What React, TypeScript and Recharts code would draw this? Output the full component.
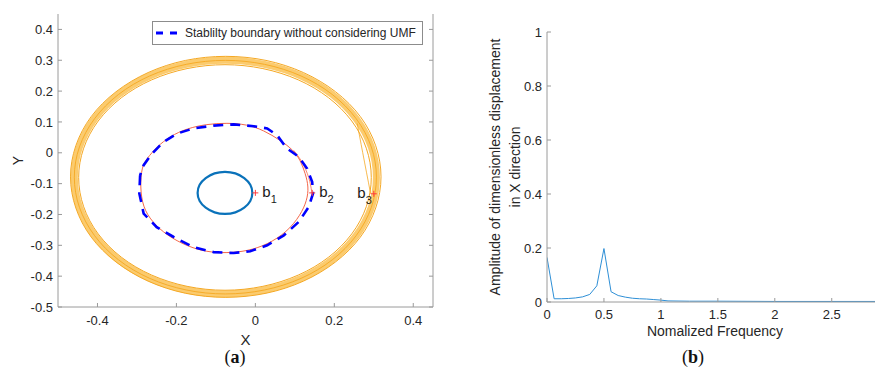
import React from 'react';
import {
    ScatterChart,
    Scatter,
    LineChart,
    Line,
    XAxis,
    YAxis,
    Legend,
} from 'recharts';

// ---- orbit panel (a) ----
// outer / middle / inner edge of the large orange orbit band
const orbitOuter = [
    { x: 0.323, y: -0.078 }, { x: 0.309, y: 0.024 }, { x: 0.270, y: 0.120 }, { x: 0.206, y: 0.201 },
    { x: 0.124, y: 0.264 }, { x: 0.028, y: 0.304 }, { x: -0.075, y: 0.317 }, { x: -0.178, y: 0.304 },
    { x: -0.274, y: 0.264 }, { x: -0.356, y: 0.201 }, { x: -0.420, y: 0.120 }, { x: -0.459, y: 0.024 },
    { x: -0.473, y: -0.078 }, { x: -0.459, y: -0.180 }, { x: -0.420, y: -0.276 }, { x: -0.356, y: -0.357 },
    { x: -0.274, y: -0.420 }, { x: -0.178, y: -0.460 }, { x: -0.075, y: -0.473 }, { x: 0.028, y: -0.460 },
    { x: 0.124, y: -0.420 }, { x: 0.206, y: -0.357 }, { x: 0.270, y: -0.276 }, { x: 0.309, y: -0.180 },
];
const orbitMiddle = [
    { x: 0.311, y: -0.079 }, { x: 0.298, y: 0.020 }, { x: 0.259, y: 0.113 }, { x: 0.198, y: 0.192 },
    { x: 0.118, y: 0.253 }, { x: 0.024, y: 0.291 }, { x: -0.076, y: 0.304 }, { x: -0.176, y: 0.291 },
    { x: -0.270, y: 0.253 }, { x: -0.350, y: 0.192 }, { x: -0.411, y: 0.113 }, { x: -0.450, y: 0.020 },
    { x: -0.463, y: -0.079 }, { x: -0.450, y: -0.178 }, { x: -0.411, y: -0.271 }, { x: -0.350, y: -0.350 },
    { x: -0.270, y: -0.411 }, { x: -0.176, y: -0.449 }, { x: -0.076, y: -0.462 }, { x: 0.024, y: -0.449 },
    { x: 0.118, y: -0.411 }, { x: 0.198, y: -0.350 }, { x: 0.259, y: -0.271 }, { x: 0.298, y: -0.178 },
];
const orbitInner = [
    { x: 0.298, y: -0.080 }, { x: 0.285, y: 0.016 }, { x: 0.248, y: 0.105 }, { x: 0.188, y: 0.182 },
    { x: 0.111, y: 0.240 }, { x: 0.020, y: 0.277 }, { x: -0.077, y: 0.290 }, { x: -0.174, y: 0.277 },
    { x: -0.265, y: 0.240 }, { x: -0.342, y: 0.182 }, { x: -0.402, y: 0.105 }, { x: -0.439, y: 0.016 },
    { x: -0.452, y: -0.080 }, { x: -0.439, y: -0.176 }, { x: -0.402, y: -0.265 }, { x: -0.342, y: -0.342 },
    { x: -0.265, y: -0.400 }, { x: -0.174, y: -0.437 }, { x: -0.077, y: -0.450 }, { x: 0.020, y: -0.437 },
    { x: 0.111, y: -0.400 }, { x: 0.188, y: -0.342 }, { x: 0.248, y: -0.265 }, { x: 0.285, y: -0.176 },
];
// transient path from b3 up into the band
const orbitB3Path = [
    { x: 0.258, y: 0.095 }, { x: 0.272, y: 0.0 }, { x: 0.292, y: -0.133 },
];

// red orbit started at b2
const orbitB2 = [
    { x: -0.288, y: -0.046 }, { x: -0.292, y: -0.111 }, { x: -0.285, y: -0.176 }, { x: -0.262, y: -0.224 },
    { x: -0.224, y: -0.268 }, { x: -0.173, y: -0.303 }, { x: -0.123, y: -0.322 }, { x: -0.072, y: -0.325 },
    { x: -0.021, y: -0.319 }, { x: 0.030, y: -0.298 }, { x: 0.080, y: -0.257 }, { x: 0.114, y: -0.203 },
    { x: 0.131, y: -0.154 }, { x: 0.135, y: -0.111 }, { x: 0.127, y: -0.068 }, { x: 0.114, y: -0.024 },
    { x: 0.097, y: 0.008 }, { x: 0.063, y: 0.041 }, { x: 0.021, y: 0.073 }, { x: -0.021, y: 0.092 },
    { x: -0.072, y: 0.097 }, { x: -0.123, y: 0.093 }, { x: -0.173, y: 0.079 }, { x: -0.216, y: 0.054 },
    { x: -0.250, y: 0.019 }, { x: -0.275, y: -0.019 },
];
const orbitB2Path = [
    { x: 0.097, y: 0.008 }, { x: 0.118, y: -0.030 }, { x: 0.135, y: -0.080 }, { x: 0.143, y: -0.128 },
];

// small blue orbit started at b1
const orbitB1 = [
    { x: -0.006, y: -0.130 }, { x: -0.011, y: -0.103 }, { x: -0.027, y: -0.081 }, { x: -0.050, y: -0.065 },
    { x: -0.077, y: -0.060 }, { x: -0.104, y: -0.065 }, { x: -0.127, y: -0.081 }, { x: -0.143, y: -0.103 },
    { x: -0.148, y: -0.130 }, { x: -0.143, y: -0.157 }, { x: -0.127, y: -0.179 }, { x: -0.104, y: -0.195 },
    { x: -0.077, y: -0.200 }, { x: -0.050, y: -0.195 }, { x: -0.027, y: -0.179 }, { x: -0.011, y: -0.157 },
];

const stabilityBoundary = [
    { x: -0.292, y: -0.073 }, { x: -0.294, y: -0.132 }, { x: -0.283, y: -0.197 }, { x: -0.250, y: -0.241 },
    { x: -0.207, y: -0.273 }, { x: -0.157, y: -0.306 }, { x: -0.106, y: -0.322 }, { x: -0.055, y: -0.325 },
    { x: -0.013, y: -0.319 }, { x: 0.030, y: -0.300 }, { x: 0.072, y: -0.268 }, { x: 0.110, y: -0.224 },
    { x: 0.135, y: -0.176 }, { x: 0.146, y: -0.132 }, { x: 0.144, y: -0.095 }, { x: 0.131, y: -0.051 },
    { x: 0.110, y: -0.013 }, { x: 0.080, y: 0.014 }, { x: 0.055, y: 0.057 }, { x: 0.030, y: 0.079 },
    { x: -0.004, y: 0.086 }, { x: -0.055, y: 0.092 }, { x: -0.106, y: 0.088 }, { x: -0.157, y: 0.079 },
    { x: -0.199, y: 0.062 }, { x: -0.233, y: 0.035 }, { x: -0.262, y: -0.003 }, { x: -0.283, y: -0.040 },
    { x: -0.292, y: -0.073 },
];

const startPoints = [
    { x: 0.0, y: -0.13, label: '1' },
    { x: 0.144, y: -0.13, label: '2' },
    { x: 0.300, y: -0.133, label: '3' },
];

const orbitXTicks = [-0.4, -0.2, 0, 0.2, 0.4];
const orbitYTicks = [-0.5, -0.4, -0.3, -0.2, -0.1, 0, 0.1, 0.2, 0.3, 0.4];
const boundaryName = 'Stablilty boundary without considering UMF';

// ---- spectrum panel (b) ----
const freq = [0, 0.0625, 0.125, 0.1875, 0.25, 0.3125, 0.375, 0.4375, 0.5, 0.5625, 0.625, 0.6875,
    0.75, 0.8125, 0.875, 0.9375, 1.0, 1.0625, 1.25, 1.5, 2.0, 2.5, 2.95];
const ampX = [0.165, 0.012, 0.012, 0.013, 0.015, 0.019, 0.028, 0.060, 0.198, 0.038, 0.024, 0.018,
    0.014, 0.012, 0.011, 0.009, 0.007, 0.004, 0.003, 0.003, 0.002, 0.002, 0.002];
const freqTicks = [0, 0.5, 1, 1.5, 2, 2.5];
const ampTicks = [0, 0.2, 0.4, 0.6, 0.8, 1];

const spectrumData = freq.map((f, i) => ({ f, amp: ampX[i] }));

const AXIS = '#9a9a9a';
const TEXT = '#262626';
const ORANGE = '#f5a823';
const tickStyle = { fontSize: 13, fill: TEXT };

const NoDot = () => <g />;
const NoTick = () => <g />;

const StartMark = (props: any) => {
    const { cx, cy, payload } = props;
    const left = payload.label === '3';
    return (
        <g>
            <line x1={cx - 3} y1={cy} x2={cx + 3} y2={cy} stroke="#ff3b3b" strokeWidth={1} />
            <line x1={cx} y1={cy - 3} x2={cx} y2={cy + 3} stroke="#ff3b3b" strokeWidth={1} />
            <text x={left ? cx - 2 : cx + 7} y={cy + 4} textAnchor={left ? 'end' : 'start'} fontSize={15} fill="#1a1a1a">
                b<tspan fontSize={11} dy={6}>{payload.label}</tspan>
            </text>
        </g>
    );
};

// rotated axis title, one <text> per line, positioned by baseline x inside the axis box
const rotatedTitle = (lines: string[], baselines: number[]) => (props: any) => {
    const { viewBox } = props;
    const cy = viewBox.y + viewBox.height / 2;
    return (
        <g>
            {lines.map((line, i) => {
                const x = viewBox.x + baselines[i];
                return (
                    <text key={i} x={x} y={cy} transform={`rotate(-90 ${x} ${cy})`} textAnchor="middle" fontSize={14} fill={TEXT}>
                        {line}
                    </text>
                );
            })}
        </g>
    );
};

const BoundaryLegend = () => (
    <div style={{
        border: '1px solid #8c8c8c', background: '#fff', height: 22, display: 'flex', alignItems: 'center',
        fontSize: 12, color: TEXT, whiteSpace: 'nowrap',
    }}>
        <svg width={32} height={10}>
            <line x1={3} y1={5} x2={31} y2={5} stroke="#0000ff" strokeWidth={3} strokeDasharray="7 7" />
        </svg>
        <span>{boundaryName}</span>
    </div>
);

const OrbitChart = () => (
    <ScatterChart width={440} height={347} margin={{ top: 14, right: 6, left: 0, bottom: 0 }}>
        <XAxis type="number" dataKey="x" domain={[-0.5, 0.45]} ticks={orbitXTicks} allowDataOverflow
            stroke={AXIS} tickSize={-4} tickMargin={13} tick={tickStyle} height={40}
            label={{ value: 'X', position: 'insideBottom', offset: 2, fontSize: 15, fill: TEXT }} />
        <YAxis type="number" dataKey="y" domain={[-0.5, 0.45]} ticks={orbitYTicks} allowDataOverflow
            stroke={AXIS} tickSize={-4} tickMargin={9} tick={tickStyle} width={58}
            label={{ content: rotatedTitle(['Y'], [23]) }} />
        <XAxis xAxisId="top" orientation="top" type="number" domain={[-0.5, 0.45]} ticks={orbitXTicks}
            allowDataOverflow stroke={AXIS} tickSize={-4} tick={NoTick} height={0} />
        <YAxis yAxisId="right" orientation="right" type="number" domain={[-0.5, 0.45]} ticks={orbitYTicks}
            allowDataOverflow stroke={AXIS} tickSize={-4} tick={NoTick} width={1} />
        <Legend layout="vertical" align="center" verticalAlign="middle" content={BoundaryLegend}
            wrapperStyle={{ left: 152, top: 21, width: 271 }} />

        {/* orange band: a wide stroke under several thin orbit loops */}
        <Scatter data={orbitMiddle} fill="#fbcb6e" shape={NoDot} legendType="none" isAnimationActive={false}
            line={{ stroke: '#fbcb6e', strokeWidth: 7 }} lineJointType="basisClosed" />
        <Scatter data={orbitOuter} fill={ORANGE} shape={NoDot} legendType="none" isAnimationActive={false}
            line={{ stroke: ORANGE, strokeWidth: 1 }} lineJointType="basisClosed" />
        <Scatter data={orbitMiddle} fill={ORANGE} shape={NoDot} legendType="none" isAnimationActive={false}
            line={{ stroke: ORANGE, strokeWidth: 0.9 }} lineJointType="basisClosed" />
        <Scatter data={orbitInner} fill={ORANGE} shape={NoDot} legendType="none" isAnimationActive={false}
            line={{ stroke: ORANGE, strokeWidth: 1 }} lineJointType="basisClosed" />
        <Scatter data={orbitB3Path} fill={ORANGE} shape={NoDot} legendType="none" isAnimationActive={false}
            line={{ stroke: ORANGE, strokeWidth: 0.8 }} lineJointType="natural" />

        <Scatter data={orbitB2} fill="#f5674a" shape={NoDot} legendType="none" isAnimationActive={false}
            line={{ stroke: '#f5674a', strokeWidth: 1 }} lineJointType="basisClosed" />
        <Scatter data={orbitB2Path} fill="#f5674a" shape={NoDot} legendType="none" isAnimationActive={false}
            line={{ stroke: '#f5674a', strokeWidth: 0.8 }} lineJointType="natural" />

        <Scatter name={boundaryName} data={stabilityBoundary} fill="#0000ff" shape={NoDot} isAnimationActive={false}
            line={{ stroke: '#0000ff', strokeWidth: 2.6, strokeDasharray: '10 7' }} lineJointType="linear" />

        <Scatter data={orbitB1} fill="#0a72ba" shape={NoDot} legendType="none" isAnimationActive={false}
            line={{ stroke: '#0a72ba', strokeWidth: 2.2 }} lineJointType="basisClosed" />

        <Scatter data={startPoints} fill="#ff3b3b" shape={StartMark} legendType="none" isAnimationActive={false} />
    </ScatterChart>
);

const SpectrumChart = () => (
    <LineChart width={443} height={347} data={spectrumData} margin={{ top: 32, right: 0, left: 0, bottom: 0 }}>
        <XAxis type="number" dataKey="f" domain={[0, 2.95]} ticks={freqTicks} allowDataOverflow
            stroke={AXIS} tickSize={-4} tickMargin={12} tick={tickStyle} height={45}
            label={{ value: 'Nomalized Frequency', position: 'insideBottom', offset: 11, fontSize: 14, fill: TEXT }} />
        <YAxis type="number" domain={[0, 1]} ticks={ampTicks} allowDataOverflow
            stroke={AXIS} tickSize={-4} tickMargin={9} tick={tickStyle} width={107}
            label={{ content: rotatedTitle(['Amplitude of dimensionless displacement', 'in X direction'], [60, 80]) }} />
        <XAxis xAxisId="top" orientation="top" type="number" domain={[0, 2.95]} ticks={freqTicks}
            allowDataOverflow stroke={AXIS} tickSize={-4} tick={NoTick} height={0} />
        <Line dataKey="amp" stroke="#2e8fd6" strokeWidth={1} dot={false} isAnimationActive={false} />
    </LineChart>
);

const Caption = ({ letter, left }: { letter: string; left: number }) => (
    <div style={{
        position: 'absolute', left, top: 347, width: 40, textAlign: 'center',
        fontFamily: '"Liberation Serif", "DejaVu Serif", serif', fontSize: 18, color: '#111',
    }}>
        (<b>{letter}</b>)
    </div>
);

export default function App() {
    return (
        <div style={{
            position: 'relative', width: 883, height: 376, margin: -8, background: '#fff',
            fontFamily: '"Liberation Sans", Arial, sans-serif', overflow: 'hidden',
        }}>
            <div style={{ position: 'absolute', left: 0, top: 0 }}>
                <OrbitChart />
            </div>
            <div style={{ position: 'absolute', left: 440, top: 0 }}>
                <SpectrumChart />
            </div>
            <Caption letter="a" left={215} />
            <Caption letter="b" left={673} />
        </div>
    );
}
